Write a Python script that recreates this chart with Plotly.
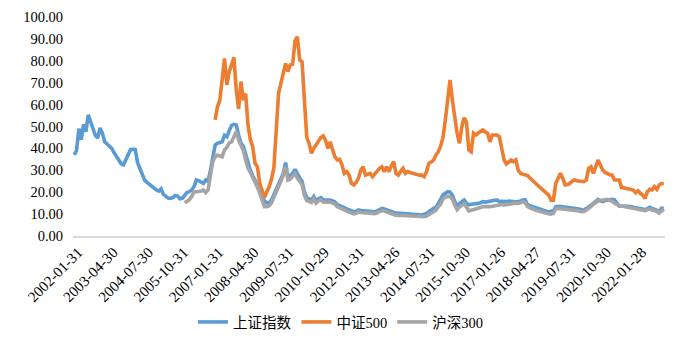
import plotly.graph_objects as go
import pandas as pd

# Tick labels shown on the category axis (every 15th month)
tick_labels = ["2002-01-31", "2003-04-30", "2004-07-30", "2005-10-31", "2007-01-31",
               "2008-04-30", "2009-07-31", "2010-10-29", "2012-01-31", "2013-04-26",
               "2014-07-31", "2015-10-30", "2017-01-26", "2018-04-27", "2019-07-31",
               "2020-10-30", "2022-01-28"]

# Monthly categories 2002-01 .. 2022-12 (month-end trading days)
dates = [d.strftime("%Y-%m-%d") for d in pd.date_range("2002-01-01", periods=252, freq="BME")]
for k, lab in enumerate(tick_labels):
    dates[15 * k] = lab

sh_index = [
    37, 39, 49, 44, 51, 47.6, 55.3, 52, 49, 46, 44.7, 49.3,
    47, 43, 42, 41, 40, 38, 36.5, 35, 33, 32.5, 35, 37.5,
    39.5, 39.6, 39.5, 33.5, 31, 28.5, 25.5, 24.5, 23.5, 22.5, 22, 21,
    20.5, 21.5, 19, 18, 17.3, 17.2, 17.5, 18.5, 18.2, 17, 17.2, 18.5,
    19.8, 20.2, 21, 22.5, 25.6, 25.3, 24.5, 24, 25.6, 25, 30, 37,
    41.5, 42.3, 42.5, 43, 46, 45.3, 48, 50.5, 51, 50.7, 46, 42.5,
    41, 37, 33, 30, 27.5, 25.6, 22.5, 20.5, 18.5, 16, 15.2, 15,
    16.5, 18.8, 22, 24, 26, 28.5, 33.5, 27, 27.5, 28.6, 30.4, 28,
    26.5, 25, 20, 17.5, 16.8, 16.3, 18, 16, 17, 17.5, 16.5, 16.5,
    16.6, 16.4, 16, 15.5, 14.3, 14, 13.5, 13, 12.3, 12, 11.5, 11.1,
    11.3, 11.9, 11.6, 11.5, 11.2, 11.1, 11.3, 11.1, 11.1, 11.5, 12, 12.6,
    12.3, 11.9, 11.5, 11.1, 10.8, 10.4, 10.5, 10.4, 10.4, 10.3, 10.4, 10.4,
    10.2, 10, 10, 9.8, 9.6, 10, 10.3, 11.1, 12, 12.6, 13, 14.9,
    16, 18.7, 19.5, 20.2, 20, 18.7, 15.7, 13.4, 14.8, 15.7, 16.4, 15,
    14.2, 14.5, 14.5, 14.6, 14.9, 15.2, 15.7, 15.5, 15.8, 16.1, 16.4, 16.3,
    16.4, 15.7, 15.8, 15.6, 15.7, 16, 16, 15.7, 15.5, 15.6, 16, 16.4,
    16.6, 14.2, 13.8, 13.4, 13, 12.6, 12.3, 11.9, 11.5, 11.3, 11.1, 11.1,
    11.5, 13.4, 13.7, 13.6, 13.3, 13.2, 13, 12.6, 12.7, 12.6, 12.5, 12.3,
    12, 11.9, 12.5, 13.1, 14, 14.9, 16, 16.7, 16, 15.7, 16.2, 16.4,
    16.7, 16.7, 16.5, 14.9, 13.7, 13.7, 13.7, 13.6, 13.4, 13.4, 13.1, 13,
    12.8, 12.6, 12.3, 11.9, 12.5, 13.1, 12.6, 12.3, 11.8, 11.1, 12.6, 12.6,
]

csi500 = [None] * 60 + [
    53, 59, 62, 72.8, 81.1, 69, 75, 78, 81.6, 66.7, 58, 70.5,
    62, 65, 50.5, 44, 40.8, 33.2, 31.6, 24, 20.2, 17.5, 20.2, 22.5,
    26, 31, 48, 65.2, 69.7, 73.5, 78.8, 75.1, 78.1, 78.5, 89, 91,
    80.4, 79.6, 63.6, 45, 42.3, 37.8, 40, 41.6, 43.8, 45, 45.7, 43.8,
    40, 43, 39.3, 36.2, 34.7, 35, 32.5, 28.6, 29.4, 27.8, 24, 23.3,
    24.5, 26.3, 30.1, 31.6, 27.8, 28, 28.6, 27.1, 28.5, 29.4, 30.9, 31.6,
    29.4, 31.6, 29.4, 32, 34, 28.6, 27.8, 29.5, 30.9, 28.6, 29.4, 29,
    28.6, 28.6, 28.2, 27.8, 27.8, 27.1, 29.4, 33.2, 33.8, 34.7, 37, 38.5,
    41, 45, 53, 62, 71.2, 62, 54, 46.9, 42.3, 49.9, 54, 52,
    39.3, 38.5, 46.9, 46.1, 47, 47.6, 48.4, 47.5, 46.9, 43, 46.1, 46.1,
    46.1, 45.3, 39.3, 34.7, 32.9, 33.8, 34.7, 34, 34.7, 30.1, 28.6, 28.2,
    27.8, 27.6, 26.5, 25.6, 24.8, 23.5, 22.5, 21.5, 20.5, 19.5, 18.7, 16.4,
    16.4, 24, 26, 28.6, 26.3, 23.3, 23.5, 24, 25, 25.6, 25.2, 25,
    24.8, 24.8, 25.5, 30.9, 31.6, 28.6, 31.6, 34.7, 32.4, 30.1, 29, 28.3,
    28, 27.8, 25.6, 25.6, 25.6, 22.2, 22, 21.7, 21.5, 21.3, 21, 19.8,
    20.7, 19.5, 18.7, 17.2, 20.2, 21.3, 21, 22.5, 21.3, 23.3, 24, 24,
]

hs300 = [None] * 47 + [
    15.2,
    15.7, 16.5, 18, 20.2, 20.2, 20.2, 20.5, 21, 19.8, 21, 28.6, 34,
    36.2, 37, 36.5, 36.2, 39.3, 40.5, 42.5, 43, 45.3, 47.6, 43.8, 40.8,
    39, 34.7, 31, 29, 26.3, 24.5, 22.5, 19.5, 16.4, 13.4, 13.4, 13.8,
    15.2, 17.5, 20.5, 23, 25, 27.5, 31.6, 25.5, 26, 27, 28.5, 26.5,
    25, 23.5, 18.5, 16.2, 15.8, 15.3, 17, 15, 16, 16.5, 15.5, 15.5,
    15.6, 15.4, 15, 14.6, 13.3, 13, 12.5, 12, 11.3, 11, 10.5, 10.1,
    10.4, 11, 10.7, 10.6, 10.3, 10.2, 10.4, 10.2, 10.2, 10.6, 11.1, 11.7,
    11.4, 11, 10.5, 10.1, 9.8, 9.4, 9.5, 9.4, 9.4, 9.3, 9.3, 9.2,
    9, 8.8, 8.8, 8.6, 8.5, 8.8, 9.1, 9.8, 10.8, 11.4, 11.8, 13.4,
    14.5, 17, 17.6, 18.2, 18, 16.8, 14, 12, 13.2, 14.2, 14.7, 13.2,
    11.5, 11.8, 12, 12.2, 12.6, 13, 13.4, 13.2, 13.4, 13.4, 13.6, 13.8,
    14.2, 14.2, 14.4, 14.2, 14.2, 14.4, 14.6, 14.9, 14.7, 14.9, 15.2, 15.7,
    15.2, 13.4, 12.9, 12.3, 12, 11.6, 11.2, 11, 10.6, 10.4, 10.2, 10,
    10.4, 12.5, 12.6, 12.5, 12.2, 12, 11.9, 11.8, 11.9, 11.8, 11.6, 11.4,
    11.1, 11.2, 11.9, 12.6, 13.4, 14.5, 15.5, 16, 16.2, 16.4, 16.6, 16.7,
    16.2, 16, 15, 14.2, 13.7, 13.7, 13.5, 13.2, 12.9, 12.7, 12.6, 12.4,
    12.3, 12.1, 11.9, 11.6, 12, 12.4, 11.9, 11.8, 11.3, 10.4, 11.6, 12.3,
]

series_names = ["上证指数",
                '中证<span style="font-family:\'Liberation Serif\'">500</span>',
                '沪深<span style="font-family:\'Liberation Serif\'">300</span>']
series_colors = ["#5B9BD5", "#ED7D31", "#A5A5A5"]

fig = go.Figure()
for name, vals, color in zip(series_names, [sh_index, csi500, hs300], series_colors):
    fig.add_trace(go.Scatter(x=dates, y=vals, mode="lines", name=name,
                             line=dict(color=color, width=3.6), connectgaps=False))

# The page body keeps the browser's default 8px margin, so the figure is sized to fit.
fig.update_layout(
    width=677, height=353,
    margin=dict(l=65, r=20, t=9, b=125, autoexpand=False),
    paper_bgcolor="white", plot_bgcolor="white",
    font=dict(family="Liberation Serif", size=14, color="#000000"),
    showlegend=True,
    legend=dict(orientation="h", xref="container", yref="container",
                x=0.491, xanchor="center", y=0.1105, yanchor="middle",
                font=dict(family="Noto Sans CJK SC", size=14.5, color="#000000"),
                itemwidth=30, tracegroupgap=0),
    xaxis=dict(type="category", categoryorder="array", categoryarray=dates,
               range=[-0.5, 251.5], tickmode="array", tickvals=tick_labels,
               tickangle=-45, showgrid=False, showline=True, linecolor="#D9D9D9",
               linewidth=1.5, ticks="", zeroline=False, automargin=False,
               ticklabelstandoff=0, ticklabelshift=4,
               tickfont=dict(family="Liberation Serif", size=15, color="#000000")),
    yaxis=dict(range=[0, 100], dtick=10, tickformat=".2f", showgrid=False,
               showline=False, zeroline=False, ticks="", automargin=False,
               ticklabelstandoff=9,
               tickfont=dict(family="Liberation Serif", size=14.5, color="#000000")),
)

fig.write_html("out.html")
